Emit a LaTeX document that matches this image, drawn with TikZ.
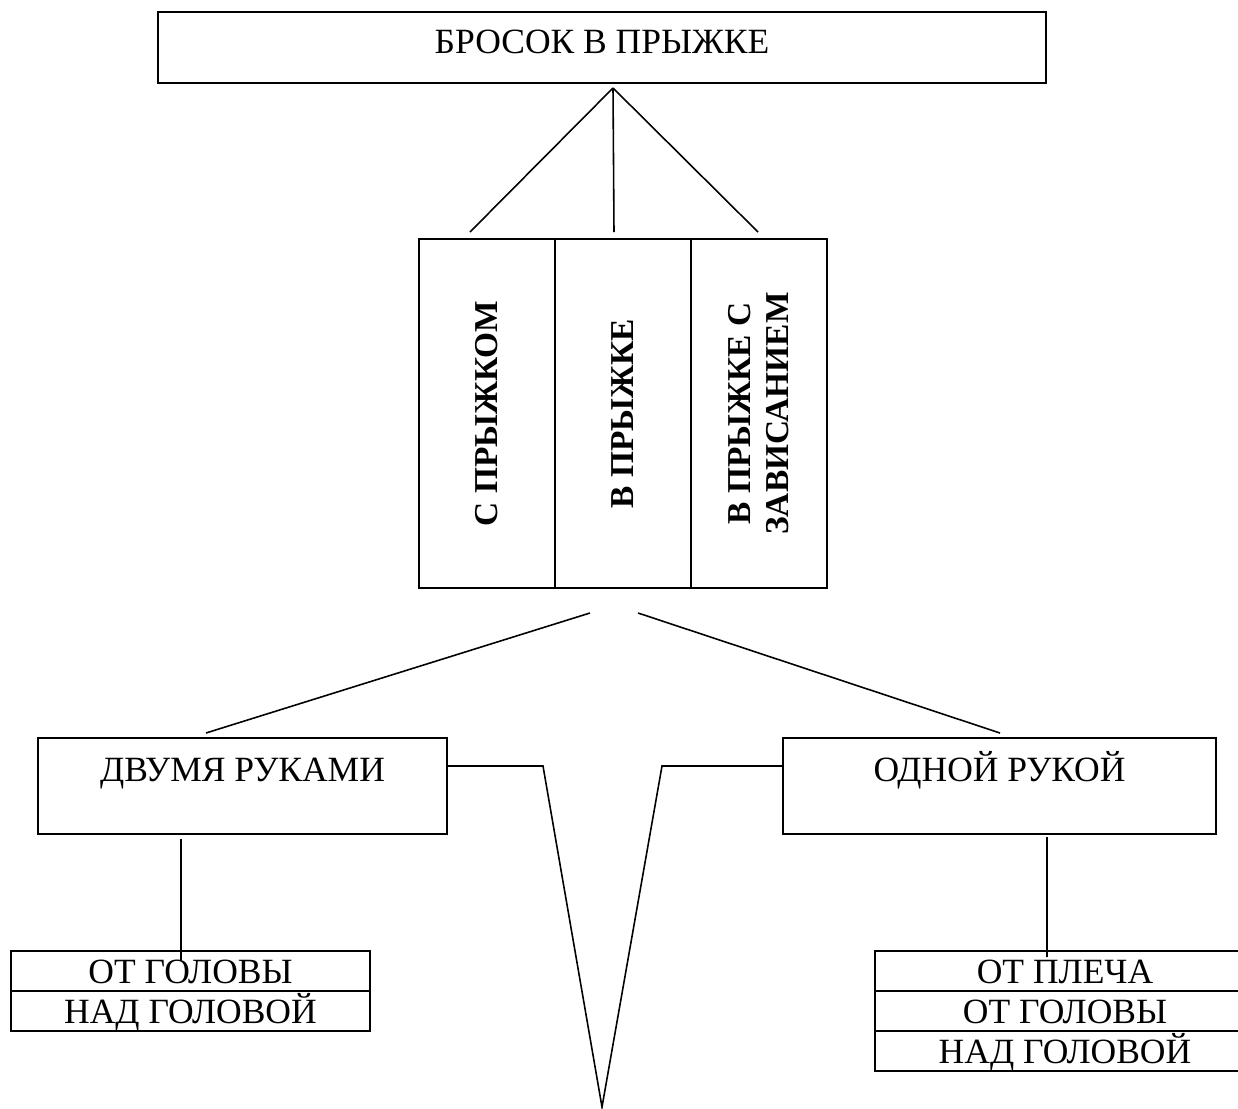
\documentclass[tikz,border=0pt]{standalone}
\usepackage{fontspec}
\setmainfont{Liberation Serif}
\usetikzlibrary{positioning}
\newcommand{\figfont}{\fontsize{10.1}{10.8}\selectfont}
\newcommand{\kindfont}{\fontsize{9.5}{10.8}\selectfont\bfseries}

\tikzset{
  box/.style={draw, line width=0.6pt, inner sep=0pt, outer sep=0pt, align=center, font=\figfont},
  kindbox/.style={box, rotate=90, minimum width=3.49cm, minimum height=1.36cm, font=\kindfont},
  handbox/.style={box, text height=0.43cm, text depth=0.53cm},
  row/.style={box, text height=0.32cm, text depth=0.08cm},
  link/.style={line width=0.45pt}
}

\begin{document}
\begin{tikzpicture}
\useasboundingbox (0,0) rectangle (12.38,-11.08);
% top
\node[box, minimum width=8.88cm, text height=0.41cm, text depth=0.30cm] (throw) at (6.02,-0.475) {БРОСОК В ПРЫЖКЕ};
% kinds of the throw
\node[kindbox] (kind1) at (4.87,-4.135) {С ПРЫЖКОМ};
\node[kindbox] (kind2) at (6.23,-4.135) {В ПРЫЖКЕ};
\node[kindbox] (kind3) at (7.59,-4.135) {В ПРЫЖКЕ С\\ЗАВИСАНИЕМ};
\coordinate (apex) at ([xshift=1.1mm,yshift=-0.5mm]throw.south);
\coordinate (k1) at (4.70,-2.32);
\coordinate (k2) at (6.14,-2.32);
\coordinate (k3) at (7.58,-2.32);
\draw[link] (apex) -- (k1);
\draw[link] (apex) -- (k2);
\draw[link] (apex) -- (k3);
% hands
\node[handbox, minimum width=4.09cm] (two) at (2.425,-7.86) {ДВУМЯ РУКАМИ};
\node[handbox, minimum width=4.33cm] (one) at (9.995,-7.86) {ОДНОЙ РУКОЙ};
\coordinate (split1) at (5.90,-6.13);
\coordinate (split2) at (6.38,-6.13);
\draw[link] (split1) -- ([xshift=-3.65mm,yshift=0.5mm]two.north);
\draw[link] (split2) -- ([xshift=0.05mm,yshift=0.5mm]one.north);
\coordinate (tip) at (6.02,-11.07);
\draw[link] ([yshift=2mm]two.east) -- ++(0.96,0) -- (tip) -- ([xshift=-12.1mm,yshift=2mm]one.west) -- ([yshift=2mm]one.west);
% ways
\node[row, minimum width=3.59cm] (two1) at (1.905,-9.71) {ОТ ГОЛОВЫ};
\node[row, minimum width=3.59cm, below=0pt of two1] (two2) {НАД ГОЛОВОЙ};
\node[row, minimum width=3.80cm] (one1) at (10.65,-9.71) {ОТ ПЛЕЧА};
\node[row, minimum width=3.80cm, below=0pt of one1] (one2) {ОТ ГОЛОВЫ};
\node[row, minimum width=3.80cm, below=0pt of one2] (one3) {НАД ГОЛОВОЙ};
\draw[link] ([xshift=-6.15mm,yshift=-0.5mm]two.south) -- ([xshift=-0.95mm,yshift=-0.9mm]two1.north);
\draw[link] ([xshift=4.75mm,yshift=-0.3mm]one.south) -- ([xshift=-1.8mm,yshift=-0.6mm]one1.north);
\end{tikzpicture}
\end{document}
